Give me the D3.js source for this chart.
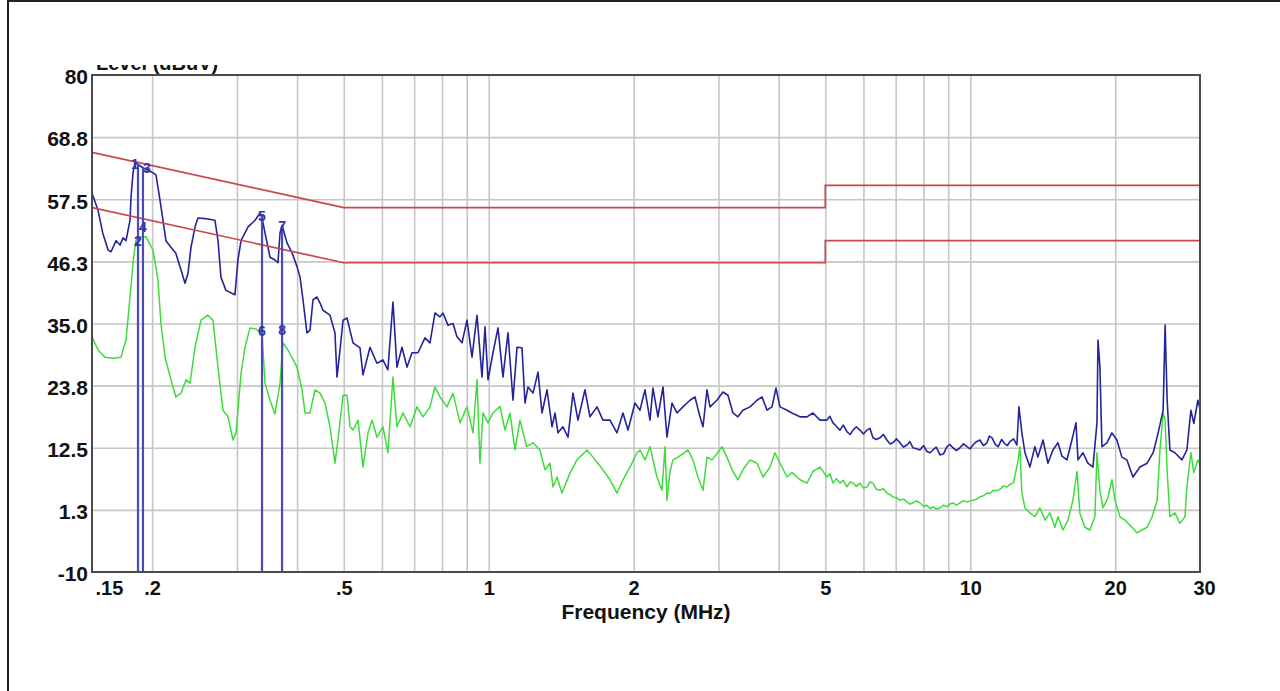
<!DOCTYPE html>
<html><head><meta charset="utf-8">
<script src="https://cdn.jsdelivr.net/npm/d3@7"></script>
<style>
html,body{margin:0;padding:0;background:#fff;}
svg{display:block;}
text{font-family:"Liberation Sans",Arial,sans-serif;}
</style></head><body>
<svg id="chart" width="1280" height="691"></svg>
<script>
// ---- data ----
const xTickValues = [0.15, 0.2, 0.5, 1, 2, 5, 10, 20, 30];
const xTickLabels = [".15", ".2", ".5", "1", "2", "5", "10", "20", "30"];
const xGridValues = [0.2,0.3,0.4,0.5,0.6,0.7,0.8,0.9,1,2,3,4,5,6,7,8,9,10,20];
const yTickValues = [-10, 1.25, 12.5, 23.75, 35, 46.25, 57.5, 68.75, 80];
const yTickLabels = ["-10", "1.3", "12.5", "23.8", "35.0", "46.3", "57.5", "68.8", "80"];
const xAxisTitle = "Frequency (MHz)";
const yAxisTitle = "Level (dBuV)";

const qpLimit = [[0.15,66],[0.5,56],[5,56],[5,60],[30,60]];
const avLimit = [[0.15,56],[0.5,46],[5,46],[5,50],[30,50]];

// peak (blue) scan: [MHz, dBuV]
const peakScan = [[0.150,58.6],[0.1544,55.5],[0.1579,51.4],[0.1620,48.3],[0.1643,48.0],[0.1683,50.0],[0.1715,49.2],[0.1740,50.5],[0.1765,50.0],[0.1799,53.7],[0.1808,57.9],[0.1825,62.3],[0.1843,64.2],[0.1869,63.8],[0.1914,63.2],[0.1998,62.4],[0.2037,61.9],[0.2076,57.4],[0.2106,53.7],[0.2136,50.0],[0.2188,48.8],[0.2240,47.7],[0.2296,44.7],[0.2340,42.3],[0.2374,44.1],[0.2408,48.8],[0.2455,52.5],[0.2490,54.1],[0.2575,54.0],[0.2700,53.7],[0.2740,50.0],[0.2779,43.4],[0.2846,41.0],[0.2971,40.2],[0.3014,46.5],[0.3059,50.0],[0.3164,52.5],[0.3272,53.7],[0.3350,55.0],[0.3382,54.1],[0.3431,51.4],[0.3514,47.0],[0.3598,46.5],[0.3650,46.0],[0.3686,51.4],[0.3722,52.8],[0.3812,49.6],[0.3904,47.8],[0.3998,45.3],[0.4056,43.4],[0.4114,39.3],[0.4193,33.3],[0.4254,33.8],[0.4316,39.3],[0.4399,39.8],[0.4463,38.7],[0.4527,37.4],[0.4681,36.5],[0.4794,33.3],[0.4840,25.3],[0.4911,30.2],[0.4982,35.6],[0.5078,36.0],[0.5226,31.5],[0.5403,30.6],[0.5481,25.7],[0.5668,30.7],[0.5859,27.8],[0.6029,28.4],[0.6174,26.6],[0.6326,38.9],[0.6447,27.1],[0.6604,30.7],[0.6764,27.1],[0.6929,29.7],[0.7130,29.7],[0.7372,32.4],[0.7551,31.5],[0.7733,36.9],[0.7921,36.2],[0.8035,36.9],[0.8229,34.7],[0.8429,35.0],[0.8592,32.6],[0.8800,31.5],[0.9013,35.6],[0.9232,28.9],[0.9455,36.5],[0.9683,25.3],[0.9823,34.4],[0.9965,24.8],[1.0206,29.7],[1.0453,34.2],[1.0705,25.3],[1.0965,33.3],[1.1230,21.1],[1.1447,30.7],[1.1724,30.6],[1.1893,20.6],[1.2066,23.5],[1.2358,22.4],[1.2657,26.2],[1.2902,18.8],[1.3214,23.0],[1.3533,16.3],[1.3728,18.8],[1.3926,15.2],[1.4262,16.3],[1.4608,14.4],[1.4961,22.4],[1.5322,17.5],[1.5843,23.0],[1.6228,18.1],[1.6781,19.9],[1.7268,17.5],[1.7856,17.5],[1.8463,15.2],[1.9001,18.8],[1.9461,15.7],[2.0123,20.6],[2.061,19.3],[2.111,23.0],[2.162,17.5],[2.193,23.3],[2.246,18.1],[2.301,23.5],[2.345,14.4],[2.402,20.6],[2.460,18.8],[2.531,19.9],[2.618,21.1],[2.681,21.7],[2.746,18.1],[2.786,16.3],[2.840,23.0],[2.880,19.9],[2.978,21.1],[3.065,22.6],[3.139,22.0],[3.215,18.8],[3.292,18.1],[3.372,19.3],[3.488,19.9],[3.607,21.1],[3.695,21.7],[3.784,19.3],[3.875,19.9],[3.950,23.3],[4.026,19.9],[4.163,19.3],[4.263,18.8],[4.429,18.1],[4.580,18.1],[4.713,18.8],[4.874,17.5],[5.040,17.5],[5.11,18.2],[5.187,17.0],[5.27,16.4],[5.363,15.7],[5.45,16.6],[5.546,15.4],[5.63,14.9],[5.708,15.7],[5.80,16.3],[5.901,15.7],[6.00,15.0],[6.102,15.7],[6.19,16.0],[6.280,14.3],[6.38,14.0],[6.493,14.3],[6.60,14.9],[6.713,13.9],[6.81,13.2],[6.909,13.4],[7.03,14.1],[7.145,13.4],[7.27,12.6],[7.387,13.0],[7.49,13.6],[7.603,12.5],[7.73,12.3],[7.862,12.1],[8.00,12.9],[8.129,11.8],[8.25,11.6],[8.366,12.1],[8.50,12.6],[8.651,11.2],[8.80,11.4],[8.945,12.7],[9.07,13.1],[9.206,12.5],[9.36,12.0],[9.519,12.5],[9.68,13.2],[9.843,12.7],[9.99,12.3],[10.13,13.0],[10.30,13.6],[10.47,13.9],[10.65,12.9],[10.83,13.4],[10.96,14.6],[11.10,14.3],[11.27,13.1],[11.43,12.7],[11.62,14.0],[11.80,13.2],[11.95,12.9],[12.09,13.6],[12.30,14.1],[12.50,13.0],[12.62,19.9],[12.80,15.2],[12.99,11.6],[13.30,9.0],[13.62,12.7],[13.82,10.8],[14.16,13.9],[14.50,9.7],[14.85,12.1],[15.21,13.4],[15.50,11.0],[15.88,10.3],[16.26,13.9],[16.58,17.0],[16.74,10.3],[17.14,11.6],[17.55,9.7],[17.98,9.0],[18.33,17.0],[18.42,32.0],[18.59,27.1],[18.77,12.7],[19.22,13.4],[19.69,15.2],[20.16,13.9],[20.65,10.8],[21.15,10.3],[21.77,7.2],[22.51,9.0],[23.30,9.7],[23.98,11.6],[24.56,15.2],[25.15,19.3],[25.39,34.7],[25.64,21.1],[25.98,12.1],[26.61,11.6],[27.52,10.3],[28.18,12.1],[28.72,19.3],[29.13,16.9],[29.69,21.1],[30.0,19.5]];

// average (green) scan: [MHz, dBuV]
const avgScan = [[0.150,32.6],[0.1544,30.2],[0.1595,28.9],[0.1657,28.7],[0.1723,28.9],[0.1765,32.0],[0.1799,39.8],[0.1825,46.0],[0.1851,50.1],[0.1896,50.7],[0.1942,50.7],[0.2008,48.3],[0.2056,42.9],[0.2086,35.0],[0.2127,28.9],[0.2188,24.8],[0.2240,21.7],[0.2296,22.4],[0.2352,24.8],[0.2397,24.2],[0.2455,30.7],[0.2526,35.6],[0.2611,36.5],[0.2675,35.6],[0.2740,27.1],[0.2806,19.3],[0.2874,18.1],[0.2944,13.9],[0.2987,15.2],[0.3059,26.0],[0.3118,30.7],[0.3193,34.2],[0.3286,34.0],[0.3382,33.0],[0.3431,24.2],[0.3514,21.1],[0.3598,18.6],[0.3686,24.2],[0.3739,31.5],[0.3829,30.2],[0.3998,27.1],[0.4095,23.0],[0.4154,18.8],[0.4254,18.8],[0.4357,23.0],[0.4463,22.4],[0.4571,20.6],[0.4681,16.3],[0.4794,9.7],[0.4863,13.9],[0.4982,22.0],[0.5078,22.0],[0.5151,16.3],[0.5226,15.7],[0.5353,17.5],[0.5481,9.0],[0.5614,15.2],[0.5723,17.5],[0.5859,14.4],[0.6029,16.3],[0.6174,11.6],[0.6326,25.3],[0.6447,16.3],[0.6636,18.8],[0.6863,16.3],[0.7094,19.9],[0.7303,18.1],[0.7551,19.9],[0.7733,23.5],[0.7921,21.7],[0.8189,19.9],[0.8429,22.4],[0.8716,17.0],[0.9013,19.9],[0.9277,15.2],[0.9455,24.8],[0.9590,9.7],[0.9728,18.8],[0.9965,17.0],[1.0206,18.8],[1.0553,20.0],[1.0808,15.7],[1.1070,18.8],[1.1338,12.1],[1.1612,17.5],[1.1981,12.7],[1.2358,13.4],[1.2777,12.1],[1.3086,8.5],[1.3403,9.7],[1.3598,5.4],[1.3860,7.2],[1.4193,4.3],[1.4748,7.9],[1.5249,10.3],[1.5998,12.1],[1.6460,10.8],[1.7268,8.5],[1.7856,6.7],[1.8463,4.3],[1.9001,6.7],[1.9648,9.0],[2.0318,11.6],[2.061,12.1],[2.111,10.3],[2.162,12.7],[2.235,7.2],[2.290,4.8],[2.323,12.7],[2.345,3.0],[2.379,8.2],[2.413,10.3],[2.471,10.8],[2.531,11.4],[2.592,12.1],[2.655,10.3],[2.719,7.2],[2.786,4.8],[2.840,10.8],[2.908,10.3],[2.978,11.4],[3.050,12.7],[3.123,10.8],[3.215,8.2],[3.292,6.7],[3.372,8.5],[3.488,10.3],[3.607,9.7],[3.713,7.2],[3.838,9.0],[3.930,11.6],[4.026,9.7],[4.163,7.2],[4.263,8.0],[4.429,6.7],[4.580,6.1],[4.713,8.2],[4.874,9.0],[5.040,7.2],[5.11,7.8],[5.187,6.1],[5.27,6.9],[5.363,6.1],[5.45,6.6],[5.546,5.4],[5.63,6.3],[5.708,6.1],[5.80,5.5],[5.901,6.1],[6.00,5.2],[6.102,5.4],[6.19,6.3],[6.280,6.1],[6.38,5.0],[6.493,4.8],[6.60,5.1],[6.713,4.3],[6.81,4.0],[6.909,3.6],[7.03,3.4],[7.145,3.0],[7.27,3.2],[7.387,2.7],[7.49,2.3],[7.603,2.5],[7.73,2.9],[7.862,2.5],[8.00,1.9],[8.129,2.1],[8.25,1.5],[8.366,1.8],[8.50,1.4],[8.651,1.6],[8.80,2.1],[8.945,1.8],[9.07,2.3],[9.206,2.5],[9.36,2.1],[9.519,2.5],[9.68,2.9],[9.843,2.7],[10.13,3.0],[10.30,3.2],[10.47,3.6],[10.65,3.8],[10.83,4.3],[11.0,4.2],[11.16,4.8],[11.35,4.7],[11.53,5.0],[11.72,5.6],[11.92,5.4],[12.10,5.9],[12.29,6.1],[12.56,10.0],[12.68,12.7],[12.80,4.3],[12.99,1.6],[13.30,0.7],[13.62,0.0],[13.95,1.6],[14.30,-0.6],[14.64,0.7],[14.99,-1.9],[15.21,0.0],[15.58,-2.4],[15.96,-0.6],[16.34,3.0],[16.66,8.2],[16.89,0.7],[17.30,-1.9],[17.72,-2.4],[18.15,0.0],[18.33,11.6],[18.59,4.8],[18.86,1.6],[19.31,3.4],[19.69,6.7],[19.97,3.0],[20.46,0.0],[20.95,-0.6],[21.66,-1.9],[22.19,-2.9],[22.73,-2.4],[23.30,-1.9],[23.86,0.0],[24.44,3.0],[24.77,12.1],[25.15,18.8],[25.39,17.5],[25.64,8.2],[25.98,0.0],[26.61,0.7],[27.25,-1.2],[27.92,0.0],[28.18,5.4],[28.72,11.6],[29.13,8.0],[29.69,10.3],[30.0,9.5]];

const markerIds    = ["1","2","3","4","5","6","7","8"];
const markerFreqs  = [0.1869,0.1869,0.1914,0.1914,0.3382,0.3382,0.3722,0.3722];
const markerLevels = [63.8,50.0,63.2,52.5,54.5,33.6,52.6,33.8];

// ---- layout ----
const L = 92, R = 1200, T = 75, B = 572;
const svg = d3.select("#chart");
const x = d3.scaleLog().domain([0.15, 30]).range([L, R]);
const y = d3.scaleLinear().domain([-10, 80]).range([B, T]);

// outer frame of the screenshot
svg.append("line").attr("x1",8).attr("x2",8).attr("y1",0).attr("y2",691).attr("stroke","#222").attr("stroke-width",2);
svg.append("line").attr("x1",8).attr("x2",1280).attr("y1",1).attr("y2",1).attr("stroke","#222").attr("stroke-width",2);

// y-axis title (top part cut off as in the original)
svg.append("clipPath").attr("id","cutTop").append("rect").attr("x",0).attr("y",65).attr("width",1280).attr("height",700);
svg.append("text").attr("clip-path","url(#cutTop)")
  .attr("x",96).attr("y",70).attr("font-size",20).attr("font-weight","bold").attr("fill","#111")
  .text(yAxisTitle);

// grids
const gx = svg.append("g").attr("transform",`translate(0,${B})`)
  .call(d3.axisBottom(x).tickValues(xGridValues).tickSize(-(B-T)).tickFormat(""));
gx.select(".domain").remove();
gx.selectAll("line").attr("stroke","#c6c6c6").attr("stroke-width",1.6);

const gy = svg.append("g").attr("transform",`translate(${L},0)`)
  .call(d3.axisLeft(y).tickValues(yTickValues.slice(1,-1)).tickSize(-(R-L)).tickFormat(""));
gy.select(".domain").remove();
gy.selectAll("line").attr("stroke","#c6c6c6").attr("stroke-width",1.6);

const plot = svg.append("g");
svg.append("clipPath").attr("id","plotClip").append("rect").attr("x",L).attr("y",T).attr("width",R-L).attr("height",B-T);
plot.attr("clip-path","url(#plotClip)");

const line = d3.line().x(d => x(d[0])).y(d => y(d[1]));

plot.append("path").datum(avgScan).attr("d",line).attr("fill","none")
  .attr("stroke","#3ddc3d").attr("stroke-width",1.5).attr("stroke-linejoin","round");
plot.append("path").datum(peakScan).attr("d",line).attr("fill","none")
  .attr("stroke","#24249a").attr("stroke-width",1.6).attr("stroke-linejoin","round");

plot.append("path").datum(qpLimit).attr("d",line).attr("fill","none").attr("stroke","#c9474a").attr("stroke-width",1.7);
plot.append("path").datum(avLimit).attr("d",line).attr("fill","none").attr("stroke","#c9474a").attr("stroke-width",1.7);

// markers: vertical drop lines + numbers
const markers = markerIds.map((id,i) => ({id, f: markerFreqs[i], v: markerLevels[i]}));
const freqsUnique = Array.from(new Set(markerFreqs));
freqsUnique.forEach(f => {
  const top = d3.max(markers.filter(m => m.f === f), m => m.v);
  plot.append("line").attr("x1",x(f)).attr("x2",x(f)).attr("y1",y(top)).attr("y2",y(-10))
    .attr("stroke","#4b4bb4").attr("stroke-width",2.2);
});
// markers 1 and 3 sit almost on top of each other: nudge them apart a little
const labelShift = {"1": -3, "3": 4};
svg.append("g").selectAll("text").data(markers).join("text")
  .attr("x", d => x(d.f) + (labelShift[d.id] || 0)).attr("y", d => y(d.v))
  .attr("text-anchor","middle").attr("dominant-baseline","central")
  .attr("font-size",14).attr("font-weight","bold").attr("fill","#3434a6")
  .text(d => d.id);

// frame
svg.append("rect").attr("x",L).attr("y",T).attr("width",R-L).attr("height",B-T)
  .attr("fill","none").attr("stroke","#4a4a4a").attr("stroke-width",2);

// axes labels
const ay = svg.append("g").attr("transform",`translate(${L},0)`)
  .call(d3.axisLeft(y).tickValues(yTickValues).tickSize(0).tickPadding(4)
    .tickFormat((d,i) => yTickLabels[i]));
ay.select(".domain").remove();
ay.selectAll("text").attr("font-size",21).attr("font-weight","bold").attr("fill","#111")
  .attr("font-family","'Liberation Sans',Arial,sans-serif").attr("dy","0.42em");

const ax = svg.append("g").attr("transform",`translate(0,${B})`)
  .call(d3.axisBottom(x).tickValues(xTickValues).tickSize(0).tickPadding(9)
    .tickFormat((d,i) => xTickLabels[i]));
ax.select(".domain").remove();
ax.selectAll("text").attr("font-size",20).attr("font-weight","bold").attr("fill","#111")
  .attr("font-family","'Liberation Sans',Arial,sans-serif")
  .attr("text-anchor",(d,i) => i === 0 ? "start" : "middle")
  .attr("dx",(d,i) => i === 0 ? 3 : (i === xTickValues.length-1 ? 4 : 0));

svg.append("text").attr("x",646).attr("y",619).attr("text-anchor","middle")
  .attr("font-size",21).attr("font-weight","bold").attr("fill","#111").text(xAxisTitle);
</script>
</body></html>
